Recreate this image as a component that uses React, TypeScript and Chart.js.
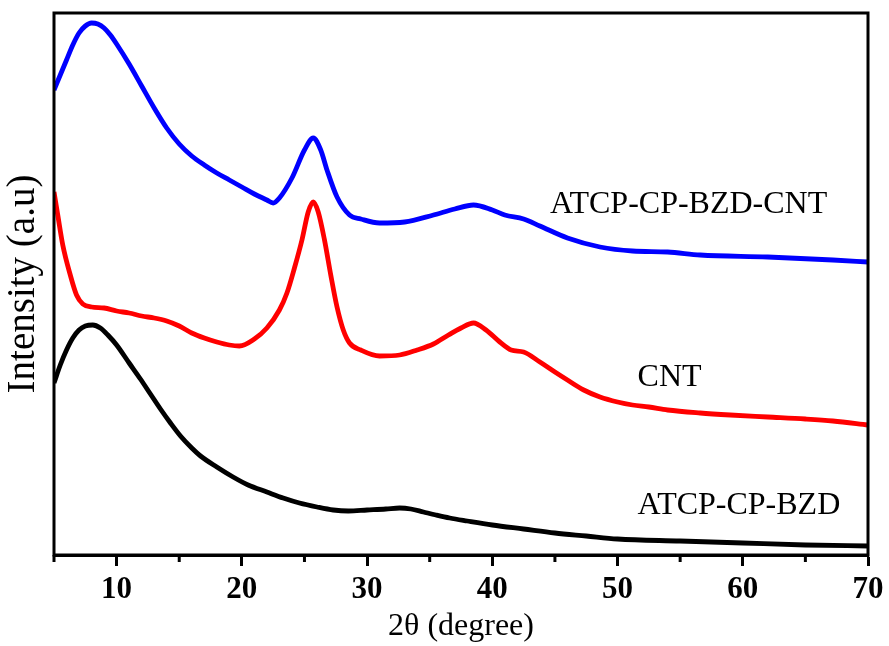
import React, { useEffect, useRef } from "react";
import { Chart, registerables } from "chart.js";

Chart.register(...registerables);

// 2θ positions (degree) and intensities (a.u.) for each sample
const thetaComposite = [
  5, 5.5, 6, 6.5, 7, 7.5, 8, 8.5, 9, 9.5, 10, 11, 12, 13, 14, 15, 16, 17, 18, 19, 20, 21, 22, 22.5, 23, 24, 25,
  25.7, 26.3, 26.8, 27.6, 28.6, 29.5, 31, 33, 35.3, 37, 38.5, 40, 41, 42.5, 43.8, 46, 48.6, 51.2, 54, 56.6, 62,
  67.2, 70,
];
const intensityComposite = [
  465, 480, 495, 510, 522, 529, 532, 531, 527, 520, 511, 491, 469, 447, 427, 411, 399, 390, 382, 375, 368, 361,
  355, 352, 357, 377, 405, 417, 405, 385, 358, 340, 336, 332, 333, 340, 346, 350, 345, 340, 336, 329, 317, 308,
  304, 303, 300, 298, 295, 293,
];

const thetaCNT = [
  5, 5.3, 5.7, 6.3, 6.8, 7.3, 8, 9, 10, 11, 12, 13, 14, 15, 16, 17, 18, 19, 19.8, 21, 22, 23, 23.6, 24.2, 24.8,
  25.3, 25.7, 26.1, 26.6, 27.1, 27.6, 28.1, 28.6, 29.5, 31, 32.6, 34, 35.3, 36.5, 37.5, 38.5, 39.5, 40.6, 41.5,
  42.5, 43.8, 45, 46, 47.3, 48.6, 50, 51.2, 52.5, 54, 56.6, 59, 62, 65, 67.2, 70,
];
const intensityCNT = [
  363, 340, 310, 280, 260, 251, 248, 247, 244, 242, 239, 237, 234, 229, 222, 217, 213, 210, 209, 216, 227, 245,
  262, 287, 315, 343, 353, 343, 315, 280, 248, 225, 212, 205, 199, 200, 205, 211, 220, 227, 232, 225, 213, 205,
  203, 193, 183, 175, 165, 158, 153, 150, 148, 145, 142, 140, 138, 136, 134, 130,
];

const thetaBZD = [
  5, 5.5, 6, 6.5, 7, 7.5, 8.1, 8.7, 9.3, 10, 11, 11.9, 12.7, 13.5, 14.3, 15.1, 16, 16.7, 18, 19.3, 20.5, 22,
  23.3, 24.6, 26, 27.3, 28.5, 30, 31.5, 32.6, 33.5, 34.5, 35.5, 36.6, 38, 40, 42.5, 45, 47.5, 50, 55, 60, 65, 70,
];
const intensityBZD = [
  172, 190, 205, 217, 225, 229, 230, 227, 220, 210, 192, 176, 161, 146, 132, 119, 107, 99, 88, 78, 70, 63, 57,
  52, 48, 45, 44, 45, 46, 47, 46, 43, 40, 37, 34, 30, 26, 22, 19, 16, 14, 12, 10, 9,
];

const seriesNames = ["ATCP-CP-BZD-CNT", "CNT", "ATCP-CP-BZD"];
const seriesColors = ["#0000ff", "#ff0000", "#000000"];

const majorTicks = [10, 20, 30, 40, 50, 60, 70];
const minorTicks = [5, 15, 25, 35, 45, 55, 65];

// Curve labels, anchored in data coordinates (left edge, vertical centre)
const curveLabels = [
  { text: "ATCP-CP-BZD-CNT", x: 44.6, y: 350 },
  { text: "CNT", x: 51.6, y: 177 },
  { text: "ATCP-CP-BZD", x: 51.6, y: 49 },
];

const SERIF = "'Liberation Serif', 'Times New Roman', serif";

const toPoints = (xs: number[], ys: number[]) => xs.map((x, i) => ({ x, y: ys[i] }));

const framePlugin = {
  id: "frameAndLabels",
  afterDraw(chart: any) {
    const { ctx, chartArea, scales } = chart;
    const { left, right, top, bottom } = chartArea;
    ctx.save();
    // closed frame
    ctx.strokeStyle = "#000";
    ctx.lineWidth = 3;
    ctx.strokeRect(left, top, right - left, bottom - top);
    // short minor ticks under the x axis
    minorTicks.forEach((v) => {
      const px = scales.x.getPixelForValue(v);
      ctx.beginPath();
      ctx.moveTo(px, bottom);
      ctx.lineTo(px, bottom + 7);
      ctx.stroke();
    });
    // curve labels
    ctx.fillStyle = "#000";
    ctx.font = `32px ${SERIF}`;
    ctx.textAlign = "left";
    ctx.textBaseline = "middle";
    curveLabels.forEach((l) => {
      ctx.fillText(l.text, scales.x.getPixelForValue(l.x), scales.y.getPixelForValue(l.y));
    });
    ctx.restore();
  },
};

export default function App() {
  const canvasRef = useRef<HTMLCanvasElement | null>(null);

  useEffect(() => {
    const canvas = canvasRef.current;
    if (!canvas) return;
    const chart = new Chart(canvas, {
      type: "line",
      data: {
        datasets: [
          { label: seriesNames[0], data: toPoints(thetaComposite, intensityComposite) },
          { label: seriesNames[1], data: toPoints(thetaCNT, intensityCNT) },
          { label: seriesNames[2], data: toPoints(thetaBZD, intensityBZD) },
        ].map((d, i) => ({
          ...d,
          borderColor: seriesColors[i],
          backgroundColor: seriesColors[i],
          borderWidth: 4.8,
          pointRadius: 0,
          cubicInterpolationMode: "monotone" as const,
          fill: false,
        })),
      },
      options: {
        responsive: false,
        animation: false,
        devicePixelRatio: 1,
        layout: { padding: { top: 13, right: 21, left: 0, bottom: 0 } },
        plugins: { legend: { display: false }, tooltip: { enabled: false } },
        scales: {
          x: {
            type: "linear",
            min: 5,
            max: 70,
            afterBuildTicks: (scale: any) => {
              scale.ticks = majorTicks.map((value) => ({ value }));
            },
            afterFit: (scale: any) => {
              scale.height = 91;
            },
            border: { display: true, color: "#000", width: 3 },
            grid: {
              drawOnChartArea: false,
              drawTicks: true,
              tickLength: 11,
              tickWidth: 3,
              tickColor: "#000",
            },
            ticks: {
              color: "#000",
              font: { family: SERIF, size: 31, weight: "bold" },
              padding: 5,
              maxRotation: 0,
              autoSkip: false,
            },
            title: {
              display: true,
              text: "2θ (degree)",
              color: "#000",
              font: { family: SERIF, size: 32 },
              padding: { top: 0, bottom: 0 },
            },
          },
          y: {
            type: "linear",
            min: 0,
            max: 542,
            afterFit: (scale: any) => {
              scale.width = 54;
            },
            border: { display: false },
            grid: { display: false },
            ticks: { display: false },
            title: {
              display: true,
              text: "Intensity (a.u)",
              color: "#000",
              font: { family: SERIF, size: 39 },
              padding: { top: 0, bottom: 0 },
            },
          },
        },
      },
      plugins: [framePlugin],
    });
    return () => chart.destroy();
  }, []);

  return (
    <div style={{ position: "fixed", left: 0, top: 0, width: 889, height: 646, background: "#fff" }}>
      <canvas ref={canvasRef} width={889} height={646} style={{ width: 889, height: 646 }} />
    </div>
  );
}
